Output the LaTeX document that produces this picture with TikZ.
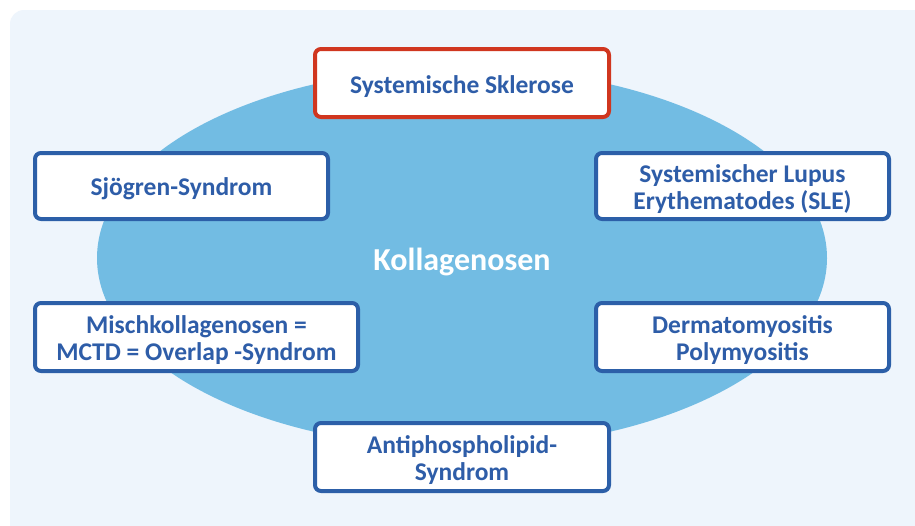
\documentclass[tikz,border=0pt]{standalone}
\usepackage{fontspec}
\setmainfont{Carlito}
\definecolor{bgc}{HTML}{EEF5FC}
\definecolor{ellc}{HTML}{72BCE3}
\definecolor{boxb}{HTML}{2C5FA8}
\definecolor{txtc}{HTML}{2E5DA8}
\definecolor{redb}{HTML}{D0361F}
\tikzset{
  kbox/.style={draw=boxb, line width=4pt, fill=white, rounded corners=6pt, inner sep=0pt},
  ktext/.style={text=txtc, font=\fontsize{25.5}{26.5}\selectfont\bfseries, align=center, inner sep=0pt},
}
\begin{document}
\begin{tikzpicture}[x=1pt,y=-1pt]
\useasboundingbox (0,0) rectangle (915,525);
\fill[white] (0,0) rectangle (915,525);
\fill[bgc, rounded corners=14pt] (10,10) rectangle (940,550);
\fill[ellc] (462,258) ellipse [x radius=365, y radius=190];
\node[kbox, draw=redb, minimum width=294pt, minimum height=68pt] (ss) at (462,83) {};
\node[ktext] (sst) at (462,87) {Systemische Sklerose};
\node[kbox, minimum width=293pt, minimum height=66pt] (sj) at (181.5,186) {};
\node[ktext] (sjt) at (181.5,189) {Sjögren-Syndrom};
\node[kbox, minimum width=293pt, minimum height=66pt] (sle) at (742.5,186) {};
\node[ktext] (slet) at (742.5,189) {Systemischer Lupus\\Erythematodes (SLE)};
\node[kbox, minimum width=323pt, minimum height=68pt] (mctd) at (196.5,337) {};
\node[ktext] (mctdt) at (196.5,340) {Mischkollagenosen =\\MCTD = Overlap -Syndrom};
\node[kbox, minimum width=293pt, minimum height=68pt] (dm) at (742.5,337) {};
\node[ktext] (dmt) at (742.5,340) {Dermatomyositis\\Polymyositis};
\node[kbox, minimum width=294pt, minimum height=68pt] (ap) at (462,457) {};
\node[ktext] (apt) at (462,460) {Antiphospholipid-\\Syndrom};
\node[text=white, font=\fontsize{32}{38}\selectfont\bfseries] (k) at (462,262) {Kollagenosen};
\end{tikzpicture}
\end{document}
